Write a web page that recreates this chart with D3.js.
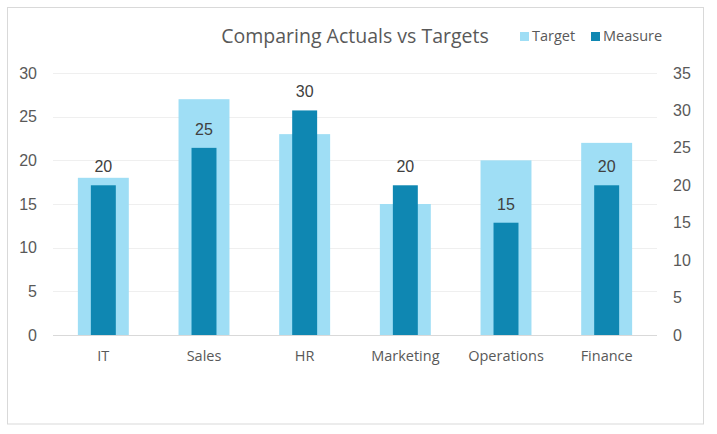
<!DOCTYPE html>
<html>
<head>
<meta charset="utf-8">
<script src="https://cdn.jsdelivr.net/npm/d3@7"></script>
<style>
  html, body { margin: 0; padding: 0; background: #fff; }
  svg { display: block; }
</style>
</head>
<body>
<svg id="chart" width="717" height="434"></svg>
<script>
const categories = ["IT", "Sales", "HR", "Marketing", "Operations", "Finance"];
const targetValues = [18, 27, 23, 15, 20, 22];
const measureValues = [20, 25, 30, 20, 15, 20];
const leftTicks = [0, 5, 10, 15, 20, 25, 30];
const rightTicks = [0, 5, 10, 15, 20, 25, 30, 35];
const titleText = "Comparing Actuals vs Targets";
const seriesNames = ["Target", "Measure"];

const colors = { target: "#9fdef5", measure: "#0f87b2" };
const font = "'Liberation Sans', Arial, sans-serif";
const textFont = "'Open Sans', sans-serif";

const svg = d3.select("#chart");

// chart border
svg.append("rect")
  .attr("x", 7.5).attr("y", 7.5).attr("width", 696).attr("height", 416.5)
  .attr("fill", "#fff").attr("stroke", "#d9d9d9").attr("stroke-width", 1);

const plot = { left: 53, right: 657, top: 73, bottom: 335 };

const x = d3.scaleBand().domain(categories)
  .range([plot.left, plot.right]).paddingInner(0.494).paddingOuter(0.247);
const yL = d3.scaleLinear().domain([0, 30]).range([plot.bottom, plot.top]);
const yR = d3.scaleLinear().domain([0, 35]).range([plot.bottom, plot.top]);

// gridlines
svg.append("g").selectAll("line").data(leftTicks.filter(d => d > 0)).join("line")
  .attr("x1", plot.left).attr("x2", plot.right)
  .attr("y1", d => Math.round(yL(d)) + 0.5).attr("y2", d => Math.round(yL(d)) + 0.5)
  .attr("stroke", "#efefef").attr("stroke-width", 1);

// left axis
const axL = svg.append("g").attr("transform", `translate(${plot.left},0)`)
  .call(d3.axisLeft(yL).tickValues(leftTicks).tickSize(0).tickPadding(16));
axL.select(".domain").remove();
axL.selectAll("text").attr("font-family", font).attr("font-size", 16).attr("fill", "#595959");

// right axis
const axR = svg.append("g").attr("transform", `translate(${plot.right},0)`)
  .call(d3.axisRight(yR).tickValues(rightTicks).tickSize(0).tickPadding(16));
axR.select(".domain").remove();
axR.selectAll("text").attr("font-family", font).attr("font-size", 16).attr("fill", "#595959");

// target bars
svg.append("g").selectAll("rect").data(categories).join("rect")
  .attr("x", d => x(d)).attr("width", x.bandwidth())
  .attr("y", (d, i) => yL(targetValues[i]))
  .attr("height", (d, i) => plot.bottom - yL(targetValues[i]))
  .attr("fill", colors.target);

// measure bars
const mw = x.bandwidth() * 0.49;
svg.append("g").selectAll("rect").data(categories).join("rect")
  .attr("x", d => x(d) + x.bandwidth() / 2 - mw / 2).attr("width", mw)
  .attr("y", (d, i) => yR(measureValues[i]))
  .attr("height", (d, i) => plot.bottom - yR(measureValues[i]))
  .attr("fill", colors.measure);

// data labels
svg.append("g").selectAll("text").data(categories).join("text")
  .attr("x", d => x(d) + x.bandwidth() / 2)
  .attr("y", (d, i) => yR(measureValues[i]) - 13)
  .attr("text-anchor", "middle")
  .attr("font-family", font).attr("font-size", 16).attr("fill", "#404040")
  .text((d, i) => measureValues[i]);

// zero line
svg.append("line")
  .attr("x1", plot.left).attr("x2", plot.right)
  .attr("y1", plot.bottom + 0.5).attr("y2", plot.bottom + 0.5)
  .attr("stroke", "#d9d9d9").attr("stroke-width", 1);

// category axis
const axX = svg.append("g").attr("transform", `translate(0,${plot.bottom})`)
  .call(d3.axisBottom(x).tickSize(0).tickPadding(16));
axX.select(".domain").remove();
axX.selectAll("text").attr("font-family", textFont).attr("font-size", 14.5)
  .attr("fill", "#595959");

// title
svg.append("text").attr("x", 355).attr("y", 43)
  .attr("text-anchor", "middle")
  .attr("font-family", textFont).attr("font-size", 19.5)
  .attr("fill", "#595959").text(titleText);

// legend
const legendX = [520, 591];
const legendColors = [colors.target, colors.measure];
const lg = svg.append("g").selectAll("g").data(seriesNames).join("g")
  .attr("transform", (d, i) => `translate(${legendX[i]},32)`);
lg.append("rect").attr("width", 9).attr("height", 9).attr("fill", (d, i) => legendColors[i]);
lg.append("text").attr("x", 12).attr("y", 9)
  .attr("font-family", textFont).attr("font-size", 14.5)
  .attr("fill", "#595959").text(d => d);
</script>
</body>
</html>
